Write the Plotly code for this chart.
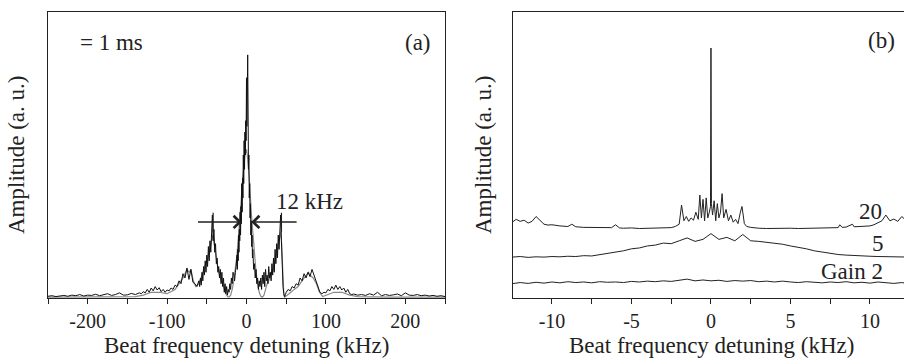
import plotly.graph_objects as go

# ---------------- Panel (a) data (black noisy spectrum, gray smoother spectrum) ----------------
xa_black = [-250, -245, -240, -235, -230, -225, -220, -215, -210, -205, -200, -195, -190, -185, -180, -175,
            -170, -165, -160, -155, -150, -145, -140, -135,
            -132.5, -130, -127.5, -125, -122.5, -120, -117.5, -115, -112.5, -110, -107.5, -105, -102.5, -100,
            -97.5, -95, -92.5, -90, -87.5, -85, -82.5, -80, -77.5, -75, -72.5, -70, -67.5, -65, -62.5,
            -60, -59, -58, -57, -56, -55, -54, -53, -52, -51, -50, -49, -48, -47, -46, -45, -44, -43, -42,
            -41, -40, -39, -38, -37, -36,
            -35, -34, -33, -32, -31, -30, -29, -28, -27, -26, -25, -24, -23, -22, -21, -20, -19, -18, -17,
            -16, -15, -14, -13,
            -12, -11.5, -11, -10.5, -10, -9.5, -9, -8.5, -8, -7.5, -7, -6.5, -6, -5.5, -5, -4.5, -4, -3.5,
            -3, -2.5, -2, -1.5, -1, -0.5, 0, 0.5, 1, 1.5, 2, 2.5, 3, 3.5, 4, 4.5, 5, 5.5, 6, 6.5, 7, 7.5, 8,
            9, 10, 11, 12, 13, 14, 15, 16,
            17, 18, 19, 20, 21, 22, 23, 24, 25, 26, 27, 28, 29, 30, 31, 32, 33, 34, 35, 36, 37, 38, 39, 40,
            41, 42, 43, 44, 45, 46, 47, 48, 49, 50,
            52.5, 55, 57.5, 60, 62.5, 65, 67.5, 70, 72.5, 75, 77.5, 80,
            82.5, 85, 87.5, 90, 92.5, 95, 97.5, 100, 102.5, 105, 107.5, 110, 112.5, 115, 117.5, 120, 122.5,
            125, 127.5, 130, 132.5, 135,
            140, 145, 150, 155, 160, 165, 170, 175, 180, 185, 190, 195, 200, 205, 210, 215, 220, 225, 230,
            235, 240, 245, 250]
ya_black = [0.006, 0.008, 0.005, 0.007, 0.009, 0.006, 0.010, 0.008, 0.012, 0.007, 0.010, 0.009, 0.013, 0.008,
            0.011, 0.015, 0.009, 0.012, 0.018, 0.010, 0.011, 0.016, 0.012, 0.018,
            0.015, 0.022, 0.018, 0.030, 0.020, 0.035, 0.025, 0.040, 0.028, 0.036, 0.022, 0.030, 0.020, 0.028,
            0.025, 0.035, 0.030, 0.045, 0.040, 0.060, 0.050, 0.085, 0.070, 0.105, 0.065, 0.100, 0.055, 0.050,
            0.040,
            0.060, 0.040, 0.070, 0.045, 0.090, 0.060, 0.110, 0.080, 0.130, 0.090, 0.150, 0.110, 0.180, 0.130,
            0.200, 0.160, 0.250, 0.290, 0.200, 0.240, 0.160, 0.190, 0.120, 0.140, 0.090,
            0.110, 0.070, 0.100, 0.050, 0.090, 0.040, 0.070, 0.020, 0.050, 0.015, 0.040, 0.010, 0.030, 0.020,
            0.050, 0.030, 0.070, 0.050, 0.090,
            0.080, 0.060, 0.090, 0.110,
            0.150, 0.100, 0.170, 0.130, 0.220, 0.160, 0.240, 0.200, 0.300, 0.220, 0.320, 0.260, 0.400, 0.300,
            0.420, 0.350, 0.500, 0.400, 0.550, 0.450, 0.580, 0.500, 0.620, 0.550, 0.770, 0.600, 0.700, 0.850,
            0.600, 0.450, 0.500, 0.350, 0.400, 0.280, 0.330, 0.220, 0.270, 0.180, 0.220, 0.140, 0.170,
            0.100, 0.120, 0.070, 0.100, 0.050, 0.070, 0.030, 0.060,
            0.040, 0.070, 0.030, 0.080, 0.050, 0.090, 0.040, 0.100, 0.060, 0.080, 0.050, 0.110, 0.070, 0.090,
            0.060, 0.120, 0.080, 0.140, 0.090, 0.170, 0.120, 0.190, 0.140, 0.220,
            0.170, 0.250, 0.290, 0.200, 0.100, 0.040, 0.015, 0.005, 0.012, 0.020,
            0.030, 0.025, 0.040, 0.035, 0.050, 0.045, 0.070, 0.060, 0.085, 0.070, 0.090, 0.075,
            0.100, 0.080, 0.060, 0.040, 0.020, 0.015, 0.020, 0.018, 0.030, 0.025, 0.040, 0.030, 0.045, 0.030,
            0.040, 0.028, 0.035, 0.020, 0.030, 0.015, 0.012, 0.014,
            0.010, 0.012, 0.009, 0.015, 0.010, 0.020, 0.008, 0.012, 0.009, 0.011, 0.014, 0.008, 0.018, 0.010,
            0.009, 0.012, 0.008, 0.010, 0.007, 0.009, 0.006, 0.008, 0.005]

xa_gray = [-250, -240, -230, -220, -210, -200, -190, -180, -170, -160, -150, -140, -130, -120, -110, -100,
           -90, -85, -80, -75, -72, -70, -67, -64, -60, -56, -52, -49, -46, -44, -43, -42, -40, -38, -36,
           -34, -32, -30, -28, -26, -24, -22, -20, -18, -16, -14, -12, -10, -8, -6, -4, -2, 0, 1, 2, 4, 6,
           8, 10, 12, 14, 16, 18, 20, 22, 24, 26, 28, 30, 32, 34, 36, 38, 40, 42, 43, 44, 45, 46, 47, 48,
           52, 56, 60, 65, 70, 75, 78, 80, 84, 88, 92, 96, 100, 110, 120, 130, 140, 150, 160, 170, 180,
           190, 200, 210, 220, 230, 240, 250]
ya_gray = [0.003, 0.003, 0.003, 0.003, 0.003, 0.003, 0.003, 0.003, 0.003, 0.004, 0.004, 0.005, 0.010, 0.020,
           0.020, 0.015, 0.030, 0.050, 0.070, 0.100, 0.090, 0.100, 0.060, 0.040, 0.050, 0.080, 0.110, 0.140,
           0.170, 0.200, 0.220, 0.210, 0.180, 0.140, 0.100, 0.080, 0.060, 0.050, 0.030, 0.015, 0.005, 0.003,
           0.010, 0.030, 0.060, 0.100, 0.150, 0.220, 0.300, 0.380, 0.440, 0.500, 0.520, 0.500, 0.470, 0.400,
           0.300, 0.220, 0.140, 0.090, 0.050, 0.020, 0.006, 0.003, 0.010, 0.030, 0.050, 0.060, 0.080, 0.090,
           0.100, 0.130, 0.160, 0.190, 0.220, 0.230, 0.200, 0.120, 0.050, 0.010, 0.003,
           0.010, 0.020, 0.030, 0.040, 0.060, 0.080, 0.090, 0.080, 0.070, 0.050, 0.020, 0.005, 0.010, 0.020,
           0.020, 0.010, 0.005, 0.004, 0.004, 0.003, 0.003, 0.003, 0.003, 0.003, 0.003, 0.003, 0.003, 0.003]

# ---------------- Panel (b) data ----------------
xb_2 = [-12.5, -12, -11.5, -11, -10.5, -10, -9.5, -9, -8.5, -8, -7.5, -7, -6.5, -6, -5.5, -5, -4.5, -4,
        -3.5, -3, -2.5, -2, -1.5, -1, -0.5, 0, 0.5, 1, 1.5, 2, 2.5, 3, 3.5, 4, 4.5, 5, 5.5, 6, 6.5, 7,
        7.5, 8, 8.5, 9, 9.5, 10, 10.5, 11, 11.5, 12, 12.5]
yb_2 = [0.050, 0.054, 0.051, 0.055, 0.052, 0.056, 0.053, 0.057, 0.054, 0.056, 0.053, 0.057, 0.055, 0.056,
        0.054, 0.058, 0.056, 0.059, 0.057, 0.060, 0.058, 0.061, 0.066, 0.060, 0.063, 0.060, 0.062, 0.058,
        0.061, 0.059, 0.061, 0.057, 0.059, 0.056, 0.059, 0.056, 0.054, 0.057, 0.055, 0.053, 0.056, 0.054,
        0.057, 0.053, 0.055, 0.052, 0.056, 0.053, 0.051, 0.054, 0.049]

xb_5 = xb_2
yb_5 = [0.143, 0.145, 0.142, 0.144, 0.143, 0.145, 0.144, 0.146, 0.145, 0.148, 0.147, 0.151, 0.155, 0.160,
        0.165, 0.172, 0.175, 0.182, 0.185, 0.192, 0.190, 0.200, 0.210, 0.198, 0.205, 0.225, 0.205, 0.212,
        0.200, 0.222, 0.200, 0.198, 0.195, 0.190, 0.188, 0.182, 0.178, 0.172, 0.165, 0.160, 0.156, 0.152,
        0.150, 0.148, 0.147, 0.146, 0.145, 0.144, 0.143, 0.142, 0.143]

xb_20 = [-12.5, -12.25, -12, -11.75, -11.5, -11.25, -11, -10.75, -10.5, -10.25, -10, -9.5, -9, -8.75, -8.5,
         -8, -7.5, -7, -6.5, -6.25, -6, -5.75, -5.5, -5, -4.5, -4, -3.5, -3, -2.5, -2.25, -2, -1.85, -1.7,
         -1.55, -1.4, -1.25, -1.1, -0.95, -0.8, -0.7, -0.6, -0.5, -0.4, -0.3, -0.2, -0.1, -0.03, 0, 0.03,
         0.1, 0.2, 0.3, 0.4, 0.5, 0.6, 0.7, 0.8, 0.95, 1.1, 1.25, 1.4, 1.55, 1.7, 1.85, 1.95, 2.1, 2.25,
         2.5, 2.75, 3, 3.5, 4, 4.5, 5, 5.5, 6, 6.5, 7, 7.5, 8, 8.1, 8.25, 8.5, 8.9, 9, 9.5, 10, 10.25,
         10.5, 10.75, 11, 11.25, 11.5, 11.75, 12, 12.25, 12.5]
yb_20 = [0.265, 0.275, 0.268, 0.272, 0.262, 0.268, 0.285, 0.270, 0.258, 0.255, 0.256, 0.252, 0.250, 0.258,
         0.249, 0.247, 0.246, 0.247, 0.245, 0.246, 0.256, 0.245, 0.244, 0.245, 0.243, 0.244, 0.243, 0.245,
         0.246, 0.250, 0.258, 0.325, 0.270, 0.285, 0.268, 0.280, 0.272, 0.300, 0.275, 0.360, 0.280, 0.345,
         0.270, 0.350, 0.280, 0.300, 0.320, 0.874, 0.330, 0.290, 0.340, 0.270, 0.330, 0.280, 0.300, 0.365,
         0.280, 0.310, 0.270, 0.290, 0.265, 0.275, 0.260, 0.300, 0.320, 0.260, 0.250, 0.247, 0.245, 0.244,
         0.243, 0.244, 0.243, 0.244, 0.243, 0.244, 0.245, 0.244, 0.245, 0.246, 0.256, 0.247, 0.248, 0.258,
         0.249, 0.250, 0.252, 0.256, 0.262, 0.270, 0.290, 0.270, 0.276, 0.268, 0.285, 0.272, 0.280]

assert len(xa_black) == len(ya_black), (len(xa_black), len(ya_black))
assert len(xa_gray) == len(ya_gray), (len(xa_gray), len(ya_gray))
assert len(xb_2) == len(yb_2) == len(yb_5), (len(xb_2), len(yb_2), len(yb_5))
assert len(xb_20) == len(yb_20), (len(xb_20), len(yb_20))

x_tick_a = [-200, -100, 0, 100, 200]
x_text_a = ["-200", "-100", "0", "100", "200"]
x_tick_b = [-10, -5, 0, 5, 10]
x_text_b = ["-10", "-5", "0", "5", "10"]

FONT = "Liberation Serif"
W, H = 904, 360

fig = go.Figure()
fig.add_trace(go.Scatter(x=xa_gray, y=ya_gray, mode="lines", line=dict(color="#8a8a8a", width=1.2),
                         xaxis="x", yaxis="y", showlegend=False))
fig.add_trace(go.Scatter(x=xa_black, y=ya_black, mode="lines", line=dict(color="#111111", width=1),
                         xaxis="x", yaxis="y", showlegend=False))
for yy in (yb_2, yb_5):
    fig.add_trace(go.Scatter(x=xb_2, y=yy, mode="lines", line=dict(color="#222222", width=1),
                             xaxis="x2", yaxis="y2", showlegend=False))
fig.add_trace(go.Scatter(x=xb_20, y=yb_20, mode="lines", line=dict(color="#222222", width=1),
                         xaxis="x2", yaxis="y2", showlegend=False))

def px2fx(p):
    return p / W

def py2fy(p):
    return 1 - p / H

ydom = [py2fy(298), py2fy(12)]
axis_common = dict(showline=True, linecolor="#222", linewidth=1.2, ticks="outside", ticklen=5,
                   tickcolor="#222", tickwidth=1, showgrid=False, zeroline=False,
                   tickfont=dict(family=FONT, size=20, color="#222"))

fig.update_layout(
    width=W, height=H, margin=dict(l=0, r=0, t=0, b=0, pad=0),
    paper_bgcolor="white", plot_bgcolor="white",
    xaxis=dict(domain=[px2fx(48), px2fx(445)], range=[-250, 250], tickvals=x_tick_a, ticktext=x_text_a,
               minor=dict(ticks="outside", dtick=50, tick0=0, ticklen=5, tickcolor="#222"),
               mirror=True, anchor="y", **axis_common),
    yaxis=dict(domain=ydom, range=[0, 1], showline=True, linecolor="#222", linewidth=1.2, mirror=True,
               showticklabels=False, ticks="", showgrid=False, zeroline=False, anchor="x"),
    xaxis2=dict(domain=[px2fx(513), 1.0], range=[-12.45, 12.14], tickvals=x_tick_b, ticktext=x_text_b,
                minor=dict(ticks="outside", dtick=2.5, tick0=0, ticklen=5, tickcolor="#222"),
                mirror=True, anchor="y2", **axis_common),
    yaxis2=dict(domain=ydom, range=[0, 1], showline=True, linecolor="#222", linewidth=1.2, mirror=False,
                showticklabels=False, ticks="", showgrid=False, zeroline=False, anchor="x2"),
)

txt = dict(family=FONT, size=23, color="#222")
ann = []
for cx in ((48 + 445) / 2, (513 + 909) / 2):
    ann.append(dict(x=px2fx(cx), y=py2fy(345), xref="paper", yref="paper", showarrow=False,
                    text="Beat frequency detuning (kHz)", font=txt, xanchor="center", yanchor="middle"))
for cx in (16, 483):
    ann.append(dict(x=px2fx(cx), y=py2fy(155), xref="paper", yref="paper", showarrow=False,
                    text="Amplitude (a. u.)", font=txt, textangle=-90, xanchor="center", yanchor="middle"))
ann.append(dict(x=-170, y=0.892, xref="x", yref="y", showarrow=False, text="= 1 ms", font=txt))
ann.append(dict(x=215.7, y=0.892, xref="x", yref="y", showarrow=False, text="(a)", font=txt))
ann.append(dict(x=79, y=0.336, xref="x", yref="y", showarrow=False, text="12 kHz", font=txt))
ann.append(dict(x=-6, y=0.266, ax=-63, ay=0.266, xref="x", yref="y", axref="x", ayref="y",
                showarrow=True, arrowhead=4, arrowsize=1.6, arrowwidth=1.5, arrowcolor="#222", text=""))
ann.append(dict(x=6, y=0.266, ax=65, ay=0.266, xref="x", yref="y", axref="x", ayref="y",
                showarrow=True, arrowhead=4, arrowsize=1.6, arrowwidth=1.5, arrowcolor="#222", text=""))
ann.append(dict(x=10.7, y=0.902, xref="x2", yref="y2", showarrow=False, text="(b)", font=txt))
ann.append(dict(x=10.06, y=0.302, xref="x2", yref="y2", showarrow=False, text="20", font=txt))
ann.append(dict(x=10.5, y=0.192, xref="x2", yref="y2", showarrow=False, text="5", font=txt))
ann.append(dict(x=8.84, y=0.094, xref="x2", yref="y2", showarrow=False, text="Gain 2", font=txt))
fig.update_layout(annotations=ann)

shapes = []
for xv in (-42, 44):
    shapes.append(dict(type="line", xref="x", yref="y", x0=xv, x1=xv, y0=0.23, y1=0.298,
                       line=dict(color="#222", width=1.2)))
fig.update_layout(shapes=shapes)

fig.write_html("out.html", config={"displayModeBar": False},
               post_script="document.body.style.margin='0';document.body.style.overflow='hidden';")
